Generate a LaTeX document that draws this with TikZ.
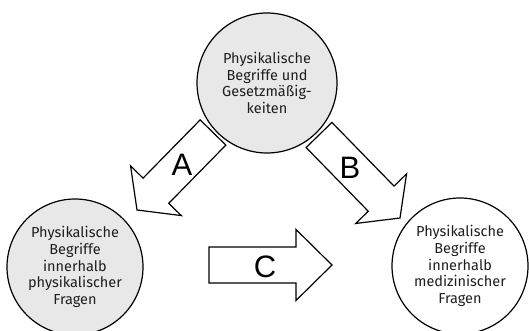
\documentclass[tikz,border=0pt]{standalone}
\usepackage{fontspec}
\setmainfont{Fira Sans}
\newfontfamily\labfont{Liberation Sans}
\usetikzlibrary{calc}
\definecolor{circfill}{HTML}{E8E8E8}
\definecolor{txt}{HTML}{1E1E1E}
\tikzset{
  circ/.style={circle, draw=black, line width=1.2pt, minimum size=#1, inner sep=0pt,
    align=center, text=txt, font=\fontsize{14.5}{16.6}\selectfont},
  blk/.style={draw=black, line width=1.2pt, fill=white, line join=miter},
  lab/.style={font=\labfont\fontsize{31}{31}\selectfont, text=black, inner sep=0pt}
}
\newcommand{\blockarrow}[5]{% tail, head, shaft half, head half, head length
  \coordinate (#1base) at ($(#2)!#5!(#1)$);
  \draw[blk] ($(#1)!#3!90:(#2)$) -- ($(#1base)!#3!-90:(#1)$) -- ($(#1base)!#4!-90:(#1)$)
    -- (#2) -- ($(#1base)!#4!90:(#1)$) -- ($(#1base)!#3!90:(#1)$) -- ($(#1)!#3!-90:(#2)$) -- cycle;
}
\begin{document}
\begin{tikzpicture}[x=1pt,y=-1pt]
\useasboundingbox (0,0) rectangle (529,331);
% arrows
\coordinate (At) at (213,132.5); \coordinate (Ah) at (137,210);
\coordinate (Bt) at (319,135);   \coordinate (Bh) at (400,218);
\coordinate (Ct) at (209,265);   \coordinate (Ch) at (332,265);
\blockarrow{At}{Ah}{18pt}{35.5pt}{27pt}
\blockarrow{Bt}{Bh}{18pt}{35.5pt}{27pt}
\blockarrow{Ct}{Ch}{18pt}{35.5pt}{36pt}
\node[lab] (la) at (182,165) {A};
\node[lab] (lb) at (350,168) {B};
\node[lab] (lc) at (265,267) {C};
% circles
\node[circ=140pt, fill=circfill] (top) at (267,83) {Physikalische\\Begriffe und\\Gesetzmäßig-\\keiten};
\node[circ=136pt, fill=circfill] (left) at (75,267) {Physikalische\\Begriffe\\innerhalb\\physikalischer\\Fragen};
\node[circ=136pt, fill=white] (right) at (460,266) {Physikalische\\Begriffe\\innerhalb\\medizinischer\\Fragen};
\end{tikzpicture}
\end{document}
